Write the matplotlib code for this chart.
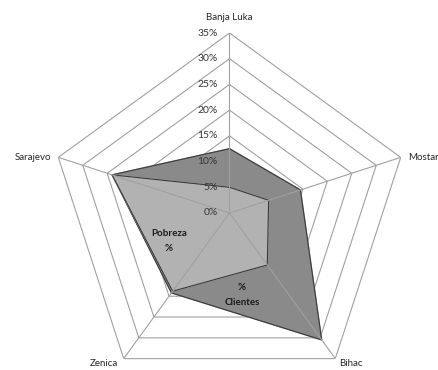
import numpy as np
import matplotlib
matplotlib.use("Agg")
import matplotlib.pyplot as plt

# Regions and values (percent)
cities = ["Banja Luka", "Mostar", "Bihac", "Zenica", "Sarajevo"]
clientes = [12.5, 14.5, 30.5, 19.2, 24.0]
pobreza = [5.0, 8.0, 12.5, 18.8, 24.0]
ticks = [0, 5, 10, 15, 20, 25, 30, 35]
tick_labels = [f"{t}%" for t in ticks]

FONT = "Lato"
W, H = 439, 370
fig = plt.figure(figsize=(W / 100, H / 100), dpi=100)
fig.patch.set_facecolor("white")

cx, cy, R = 229.5, 213.0, 180.0
ax = fig.add_axes([(cx - R) / W, (H - cy - R) / H, 2 * R / W, 2 * R / H],
                  projection="polar")
ax.set_theta_offset(np.pi / 2)
ax.set_theta_direction(-1)
ax.set_ylim(0, 35)
ax.grid(False)
ax.set_xticks([])
ax.set_yticks([])
ax.spines["polar"].set_visible(False)
ax.patch.set_alpha(0)

n = len(cities)
theta = np.arange(n) * 2 * np.pi / n
theta_c = np.append(theta, theta[0])

grid_col = "#a0a0a0"
# pentagon rings
for t in ticks[1:]:
    ax.plot(theta_c, [t] * (n + 1), color=grid_col, lw=0.8, zorder=1)

def closed(v):
    return list(v) + [v[0]]

ax.fill(theta_c, closed(clientes), color="#8a8a8a", zorder=2)
ax.plot(theta_c, closed(clientes), color="#3a3a3a", lw=0.8, zorder=2.5)
ax.fill(theta_c, closed(pobreza), color="#b2b2b2", zorder=3)
ax.plot(theta_c, closed(pobreza), color="#3a3a3a", lw=0.8, zorder=3.5)

# spokes
for th in theta:
    ax.plot([th, th], [0, 35], color=grid_col, lw=0.8, zorder=4)

# radial tick labels
for t, lab in zip(ticks, tick_labels):
    ax.annotate(lab, xy=(0, t), xytext=(-8.5, 0), textcoords="offset points",
                ha="right", va="center", fontsize=7.5, family=FONT,
                color="#333333", zorder=5)

# category labels
offsets = {"Banja Luka": (0, 8, "center", "bottom"),
           "Mostar": (5, 0, "left", "center"),
           "Bihac": (3, -0.5, "left", "top"),
           "Zenica": (-4, -0.5, "right", "top"),
           "Sarajevo": (-5, 0, "right", "center")}
for th, name in zip(theta, cities):
    dx, dy, ha, va = offsets[name]
    ax.annotate(name, xy=(th, 35), xytext=(dx, dy), textcoords="offset points",
                ha=ha, va=va, fontsize=7, family=FONT, color="#262626",
                annotation_clip=False)

# series labels
fig.text(169 / W, 1 - 241 / H, "Pobreza\n%", ha="center", va="center",
         fontsize=7, family=FONT, fontweight="bold", color="#1a1a1a",
         linespacing=1.8)
fig.text(242 / W, 1 - 295 / H, "%\nClientes", ha="center", va="center",
         fontsize=7, family=FONT, fontweight="bold", color="#1a1a1a",
         linespacing=1.8)

fig.savefig("out.png", dpi=100)
